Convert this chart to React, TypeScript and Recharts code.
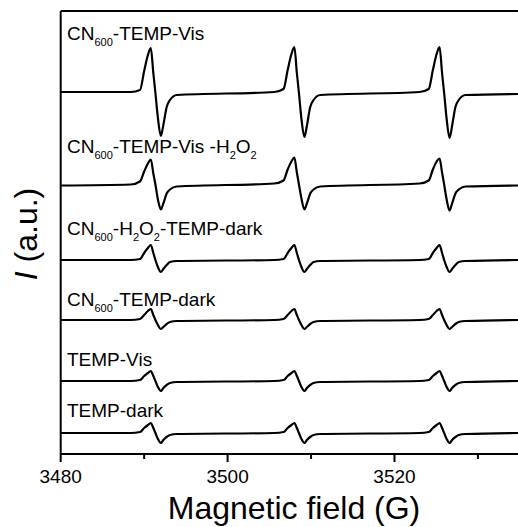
import { LineChart, Line, XAxis, YAxis, ReferenceLine } from 'recharts';

// magnetic field positions (G) shared by all spectra
const fields = [
  3480,
  3488.4, 3489.5, 3490.0, 3490.45, 3490.8, 3491.1, 3491.35, 3491.65, 3492.0, 3492.3, 3492.7, 3493.1, 3493.9,
  3505.6, 3506.7, 3507.2, 3507.65, 3508.0, 3508.3, 3508.55, 3508.85, 3509.2, 3509.5, 3509.9, 3510.3, 3511.1,
  3523.0, 3524.1, 3524.6, 3525.05, 3525.4, 3525.7, 3525.95, 3526.25, 3526.6, 3526.9, 3527.3, 3527.7, 3528.5,
  3535,
];

// intensities relative to each trace's own baseline (a.u.)
const cnTempVis = [
  1,
  1, 3, 22, 38, 45, 20, 0, -25, -43, -32, -14, -7, -2,
  1, 4, 23, 39, 46, 20, 0, -26, -44, -33, -14, -7, -2,
  1, 4, 23, 39, 46, 20, 0, -26, -45, -33, -14, -7, -2,
  -1,
];
const cnTempVisH2o2 = [
  -1,
  0, 3, 13, 21, 25, 11, 0, -15, -25, -19, -9, -5, -2,
  1, 4, 15, 23, 27, 12, 0, -14, -25, -19, -9, -5, -2,
  1, 4, 15, 23, 26, 12, 0, -15, -26, -19, -9, -5, -2,
  -1,
];
const cnH2o2TempDark = [
  0,
  0, 1, 7, 12, 15, 7, 0, -7, -12, -9, -5, -2, -1,
  0, 1, 7, 12, 15, 7, 0, -7, -12, -9, -5, -2, -1,
  0, 1, 7, 12, 15, 7, 0, -7, -12, -9, -5, -2, -1,
  0,
];
const cnTempDark = [
  0,
  0, 1, 5, 9, 11, 5, 0, -5, -9, -7, -4, -2, -1,
  0, 1, 5, 9, 11, 5, 0, -5, -9, -7, -4, -2, -1,
  0, 1, 5, 9, 11, 5, 0, -5, -9, -7, -4, -2, -1,
  0,
];
const tempVis = [
  0,
  0, 1, 5, 8, 10, 5, 0, -6, -10, -7, -4, -2, -1,
  0, 1, 5, 8, 10, 5, 0, -6, -10, -7, -4, -2, -1,
  0, 1, 5, 8, 10, 5, 0, -6, -10, -7, -4, -2, -1,
  0,
];
const tempDark = [
  0,
  0, 1, 5, 8, 10, 5, 0, -6, -10, -7, -4, -2, -1,
  0, 1, 5, 8, 10, 5, 0, -6, -10, -7, -4, -2, -1,
  0, 1, 5, 8, 10, 5, 0, -6, -10, -7, -4, -2, -1,
  0,
];

// vertical stacking offsets (a.u.), top trace first
const offsets = [361, 269.5, 194, 134, 73, 21];
const traces = [cnTempVis, cnTempVisH2o2, cnH2o2TempDark, cnTempDark, tempVis, tempDark];

const xTicks = [3480, 3490, 3500, 3510, 3520, 3530];
const labeledTicks = [3480, 3500, 3520];

const data = fields.map((f, i) => {
  const row: Record<string, number> = { field: f };
  traces.forEach((t, k) => {
    row['t' + k] = offsets[k] + t[i];
  });
  return row;
});

const FONT = '"Liberation Sans", Arial, sans-serif';

function AxisTick(props: any) {
  const { x, y, payload } = props;
  const major = labeledTicks.includes(payload.value);
  return (
    <g>
      <line x1={x} x2={x} y1={y} y2={y + (major ? 8 : 5)} stroke="#000" strokeWidth={2} />
      {major && (
        <text x={x} y={y + 29} textAnchor="middle" fontSize={19} fontFamily={FONT} fill="#000">
          {payload.value}
        </text>
      )}
    </g>
  );
}

const SUB = 11;

export default function App() {
  return (
    <div style={{ position: 'absolute', left: 0, top: 0, width: 518, height: 527, background: '#fff' }}>
      <LineChart width={518} height={527} data={data} margin={{ top: 11, right: 0, left: 60.7, bottom: 0 }}>
        <XAxis
          dataKey="field"
          type="number"
          domain={[3480, 3534.8]}
          ticks={xTicks}
          allowDataOverflow
          height={73}
          tickSize={0}
          tickMargin={0}
          tickLine={false}
          axisLine={{ stroke: '#000', strokeWidth: 2 }}
          tick={<AxisTick />}
          interval={0}
        />
        <YAxis type="number" domain={[0, 443]} hide allowDataOverflow />
        <ReferenceLine x={3480} stroke="#000" strokeWidth={2} />
        <ReferenceLine y={443} stroke="#000" strokeWidth={2} />
        {traces.map((_, k) => (
          <Line
            key={k}
            dataKey={'t' + k}
            type="monotone"
            stroke="#000"
            strokeWidth={2.2}
            dot={false}
            isAnimationActive={false}
          />
        ))}
      </LineChart>
      <svg
        width={518}
        height={527}
        style={{ position: 'absolute', left: 0, top: 0, pointerEvents: 'none' }}
        fontFamily={FONT}
        fill="#000"
      >
        <text x={67} y={40} fontSize={19}>
          CN<tspan fontSize={SUB} dy={6}>600</tspan>
          <tspan dy={-6}>-TEMP-Vis</tspan>
        </text>
        <text x={67} y={153} fontSize={19}>
          CN<tspan fontSize={SUB} dy={6}>600</tspan>
          <tspan dy={-6}>-TEMP-Vis -H</tspan>
          <tspan fontSize={SUB} dy={6}>2</tspan>
          <tspan dy={-6}>O</tspan>
          <tspan fontSize={SUB} dy={6}>2</tspan>
        </text>
        <text x={67} y={235} fontSize={19}>
          CN<tspan fontSize={SUB} dy={6}>600</tspan>
          <tspan dy={-6}>-H</tspan>
          <tspan fontSize={SUB} dy={6}>2</tspan>
          <tspan dy={-6}>O</tspan>
          <tspan fontSize={SUB} dy={6}>2</tspan>
          <tspan dy={-6}>-TEMP-dark</tspan>
        </text>
        <text x={67} y={306} fontSize={19}>
          CN<tspan fontSize={SUB} dy={6}>600</tspan>
          <tspan dy={-6}>-TEMP-dark</tspan>
        </text>
        <text x={67} y={366} fontSize={19}>TEMP-Vis</text>
        <text x={67} y={417} fontSize={19}>TEMP-dark</text>
        <text transform="translate(37,234) rotate(-90)" textAnchor="middle" fontSize={32}>
          <tspan fontStyle="italic">I</tspan> (a.u.)
        </text>
        <text x={294} y={519} textAnchor="middle" fontSize={32}>
          Magnetic field (G)
        </text>
      </svg>
    </div>
  );
}
